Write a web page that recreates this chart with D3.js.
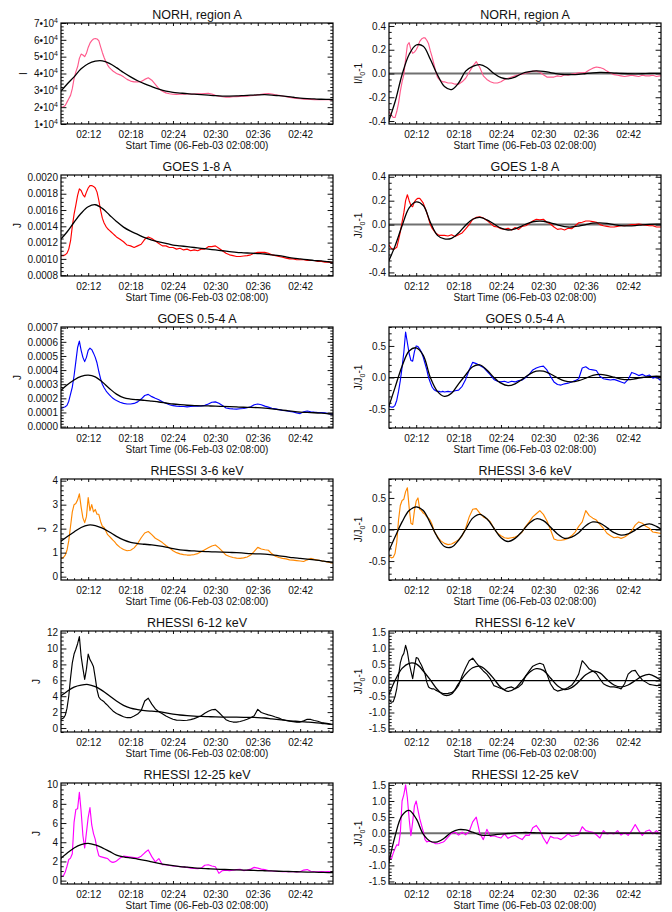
<!DOCTYPE html>
<html>
<head>
<meta charset="utf-8">
<script src="https://cdn.jsdelivr.net/npm/d3@7"></script>
<style>
  html, body { margin: 0; padding: 0; background: #fff; }
  svg { display: block; font-family: "Liberation Sans", Arial, Helvetica, sans-serif; }
</style>
</head>
<body>
<svg id="chart" width="672" height="912"></svg>
<script>
// ---------------------------------------------------------------------------
// Time grids, minutes after 02:08:00 UT on 06-Feb-2003
// ---------------------------------------------------------------------------
const tObs = [
  0,0.25,0.5,0.75,1,1.25,1.5,1.75,2,2.25,2.5,2.75,3,3.25,3.5,3.75,4,4.25,4.5,4.75,5,5.25,5.5,5.75,6,6.25,6.5,6.75,7,7.25,7.5,7.75,8,
  8.5,9,9.5,10,10.5,11,11.5,12,12.5,13,13.5,14,14.5,15,15.5,16,16.5,17,17.5,18,18.5,19,19.5,20,20.5,21,21.5,22,22.5,23,23.5,
  24,24.5,25,25.5,26,26.5,27,27.5,28,28.5,29,29.5,30,30.5,31,31.5,32,32.5,33,33.5,34,34.5,35,35.5,36,36.5,37,37.5,38,38.5,39
];
const tFit = [0,1,2,3,4,5,6,7,8,9,10,11,12,13,14,15,16,17,18,19,20,21,22,23,24,25,26,27,28,29,30,31,32,33,34,35,36,37,38,39];

// ---------------------------------------------------------------------------
// Channel names
// ---------------------------------------------------------------------------
const channelNames = ["NORH, region A", "GOES 1-8 A", "GOES 0.5-4 A", "RHESSI 3-6 keV", "RHESSI 6-12 keV", "RHESSI 12-25 keV"];

// ---------------------------------------------------------------------------
// Flux J (left column). NORH in 1e4, GOES 1-8 in 1e-3, GOES 0.5-4 in 1e-4
// ---------------------------------------------------------------------------
const norhFlux = [
  2.0,2.0,2.02,2.1,2.3,2.5,2.7,3.1,3.7,4.1,4.4,4.9,5.15,5.1,5.0,5.2,5.55,5.8,5.95,6.05,6.08,6.05,5.95,5.6,5.25,4.95,4.7,4.5,4.35,4.25,4.15,4.08,4.0,
  3.92,3.8,3.65,3.55,3.5,3.5,3.52,3.65,3.75,3.6,3.35,3.1,2.95,2.85,2.8,2.77,2.76,2.77,2.77,2.78,2.78,2.78,2.79,2.8,2.81,2.82,2.78,2.7,2.65,2.62,2.6,
  2.6,2.62,2.63,2.64,2.65,2.66,2.68,2.7,2.73,2.76,2.79,2.81,2.78,2.73,2.7,2.66,2.62,2.58,2.55,2.52,2.5,2.48,2.47,2.46,2.45,2.45,2.44,2.44,2.44,2.43,2.43
];
const norhFluxFit = [
  2.88,3.36,3.8,4.28,4.58,4.73,4.75,4.6,4.35,4.06,3.8,3.57,3.38,3.22,3.07,2.95,2.88,2.84,2.8,2.77,
  2.74,2.71,2.68,2.66,2.66,2.67,2.69,2.71,2.73,2.74,2.72,2.68,2.64,2.59,2.54,2.51,2.49,2.47,2.46,2.45
];
const goes18Flux = [
  1.04,1.04,1.04,1.05,1.07,1.12,1.22,1.4,1.55,1.66,1.78,1.86,1.84,1.79,1.76,1.82,1.87,1.9,1.9,1.89,1.87,1.82,1.72,1.6,1.5,1.44,1.4,1.37,1.35,1.33,1.31,1.29,1.27,
  1.24,1.21,1.17,1.16,1.14,1.16,1.18,1.24,1.27,1.25,1.22,1.19,1.16,1.16,1.14,1.14,1.12,1.13,1.11,1.12,1.1,1.11,1.1,1.12,1.12,1.15,1.15,1.16,1.13,1.1,1.07,
  1.05,1.04,1.03,1.03,1.035,1.04,1.05,1.07,1.08,1.08,1.08,1.07,1.05,1.04,1.03,1.02,1.01,1.0,1.0,0.99,0.99,0.99,0.98,0.98,0.98,0.97,0.97,0.96,0.96,0.955,0.95
];
const goes18FluxFit = [
  1.23,1.33,1.45,1.56,1.64,1.665,1.62,1.54,1.46,1.39,1.34,1.3,1.26,1.23,1.21,1.19,1.17,1.16,1.15,1.14,
  1.13,1.12,1.11,1.1,1.09,1.08,1.075,1.07,1.065,1.06,1.05,1.04,1.025,1.01,1.0,0.99,0.98,0.975,0.965,0.96
];
const goes054Flux = [
  1.3,1.3,1.35,1.4,1.5,1.8,2.3,2.8,3.6,4.6,5.6,6.05,5.4,4.9,4.6,4.9,5.4,5.55,5.45,5.2,4.9,4.5,3.9,3.4,3.0,2.75,2.55,2.38,2.25,2.12,2.0,1.92,1.85,
  1.72,1.64,1.6,1.6,1.64,1.75,1.95,2.2,2.28,2.12,2.0,1.9,1.75,1.65,1.55,1.48,1.45,1.43,1.42,1.4,1.42,1.44,1.45,1.47,1.5,1.6,1.72,1.75,1.65,1.5,1.32,
  1.27,1.25,1.24,1.26,1.28,1.33,1.4,1.55,1.6,1.55,1.45,1.38,1.3,1.25,1.2,1.15,1.12,1.08,1.03,0.97,0.92,1.05,1.1,1.05,1.02,1.0,1.0,0.97,0.92,0.88,0.87
];
const goes054FluxFit = [
  2.5,2.94,3.3,3.55,3.64,3.52,3.15,2.7,2.3,2.05,1.95,1.9,1.86,1.8,1.74,1.67,1.6,1.55,1.51,1.49,
  1.47,1.46,1.45,1.43,1.41,1.39,1.37,1.36,1.34,1.31,1.26,1.2,1.14,1.08,1.03,1.0,0.98,0.95,0.91,0.88
];
const rh36Flux = [
  0.75,0.76,0.8,0.9,1.1,1.5,2.1,2.7,3.0,3.05,3.2,3.45,2.9,2.45,2.25,2.5,3.3,2.75,3.0,2.7,2.8,2.6,2.6,2.3,2.1,2.05,1.9,1.75,1.68,1.6,1.52,1.45,1.35,
  1.22,1.13,1.08,1.1,1.2,1.38,1.62,1.82,1.88,1.75,1.6,1.52,1.42,1.3,1.2,1.08,1.0,0.95,0.92,0.9,0.9,0.92,0.96,1.04,1.12,1.2,1.28,1.32,1.2,1.05,0.9,
  0.84,0.8,0.77,0.76,0.78,0.82,0.9,1.05,1.22,1.15,1.12,1.1,0.95,0.85,0.8,0.76,0.74,0.7,0.69,0.67,0.65,0.63,0.7,0.76,0.72,0.69,0.66,0.63,0.6,0.57,0.55
];
const rh36FluxFit = [
  1.45,1.66,1.86,2.05,2.15,2.13,2.02,1.86,1.68,1.53,1.43,1.38,1.35,1.32,1.28,1.23,1.17,1.12,1.09,1.07,
  1.05,1.04,1.03,1.02,1.01,1.0,0.98,0.96,0.95,0.94,0.91,0.87,0.83,0.79,0.76,0.73,0.7,0.66,0.62,0.59
];
const rh612Flux = [
  1.1,1.14,1.25,1.6,2.5,4.0,6.3,8.2,9.3,9.9,10.6,11.5,9.0,7.5,6.1,7.4,9.3,8.6,8.2,7.7,6.3,4.8,3.9,3.6,3.45,3.3,3.05,2.85,2.6,2.38,2.15,1.98,1.82,
  1.62,1.42,1.3,1.3,1.5,1.75,2.2,3.4,3.75,3.0,2.4,2.05,1.8,1.5,1.3,1.1,1.0,0.98,0.95,0.98,1.05,1.18,1.35,1.55,1.85,2.1,2.3,2.35,1.95,1.5,1.05,
  0.85,0.75,0.75,0.82,0.95,1.1,1.3,1.55,2.35,1.95,1.8,1.65,1.55,1.38,1.25,1.05,0.95,0.85,0.8,0.75,0.75,0.9,1.1,1.08,0.95,0.85,0.7,0.62,0.55,0.45,0.42
];
const rh612FluxFit = [
  3.95,4.6,5.15,5.4,5.47,5.2,4.7,4.05,3.4,2.85,2.5,2.32,2.2,2.12,2.05,1.9,1.76,1.64,1.56,1.5,
  1.46,1.43,1.4,1.38,1.37,1.36,1.35,1.34,1.32,1.26,1.16,1.06,0.96,0.88,0.8,0.75,0.69,0.6,0.5,0.42
];
const rh1225Flux = [
  0.42,0.45,0.5,0.9,1.5,2.2,2.35,2.8,6.1,7.4,7.5,9.2,7.2,4.7,3.4,5.0,6.6,7.6,5.8,4.9,4.3,3.3,2.6,2.5,2.45,2.4,2.35,2.3,2.1,1.95,1.9,1.95,2.05,
  2.35,2.55,2.5,2.45,2.4,2.35,2.55,2.9,3.2,2.5,1.95,2.3,1.65,1.65,1.58,1.52,1.5,1.46,1.42,1.38,1.3,1.27,1.25,1.3,1.6,1.65,1.52,1.45,0.76,1.05,1.1,
  1.05,1.1,1.15,1.18,1.05,1.1,1.2,1.38,1.3,1.2,1.15,1.04,1.0,0.98,0.95,0.93,0.93,0.95,0.93,0.92,0.93,1.1,1.15,0.98,0.95,0.93,0.95,0.92,0.94,0.93,0.93
];
const rh1225FluxFit = [
  2.25,2.86,3.4,3.75,3.88,3.72,3.42,3.05,2.66,2.48,2.36,2.25,2.12,1.95,1.8,1.67,1.56,1.47,1.4,1.33,
  1.28,1.24,1.2,1.17,1.14,1.12,1.1,1.08,1.05,1.03,1.01,0.98,0.96,0.94,0.91,0.89,0.88,0.86,0.84,0.83
];

// ---------------------------------------------------------------------------
// Relative variation J/J0 - 1 (right column)
// ---------------------------------------------------------------------------
const norhRel = [
  -0.31,-0.33,-0.35,-0.37,-0.37,-0.32,-0.25,-0.15,-0.07,-0.01,0.12,0.24,0.26,0.2,0.17,0.18,0.2,0.23,0.27,0.29,0.3,0.3,0.28,0.25,0.19,0.14,0.08,0.02,-0.03,-0.05,-0.06,-0.07,-0.07,
  -0.08,-0.08,-0.09,-0.09,-0.07,-0.04,0.01,0.06,0.1,0.05,-0.02,-0.05,-0.07,-0.08,-0.08,-0.07,-0.05,-0.04,-0.03,-0.02,-0.01,-0.005,0.005,0.01,0.02,0.02,0.01,-0.01,-0.03,-0.03,-0.03,
  -0.02,-0.025,-0.01,-0.015,-0.005,0,0.005,0.005,0.01,0.03,0.045,0.055,0.05,0.04,0.02,0.005,-0.01,-0.015,-0.02,-0.025,-0.02,-0.015,-0.02,-0.025,-0.015,-0.02,-0.02,-0.015,-0.025,-0.02,-0.02
];
const norhRelFit = [
  -0.42,-0.24,-0.01,0.16,0.24,0.23,0.12,-0.01,-0.11,-0.135,-0.08,0.02,0.06,0.075,0.05,0.0,-0.035,-0.045,-0.03,0.0,
  0.015,0.022,0.018,0.008,-0.003,-0.009,-0.01,-0.007,0.0,0.006,0.009,0.008,0.004,0.0,-0.002,-0.003,-0.002,0.0,0.001,0.001
];
const goes18Rel = [
  -0.16,-0.18,-0.2,-0.21,-0.2,-0.19,-0.13,-0.06,0.02,0.1,0.2,0.25,0.2,0.16,0.15,0.19,0.21,0.22,0.22,0.2,0.18,0.14,0.1,0.05,0.0,-0.03,-0.05,-0.07,-0.08,-0.09,-0.09,-0.09,-0.09,
  -0.095,-0.085,-0.1,-0.085,-0.07,-0.035,0.0,0.045,0.06,0.065,0.055,0.035,0.01,-0.015,-0.02,-0.035,-0.04,-0.03,-0.045,-0.025,-0.04,-0.015,-0.01,0.01,0.03,0.045,0.04,0.045,0.02,0.005,-0.02,
  -0.04,-0.035,-0.045,-0.03,-0.035,-0.01,0.015,0.02,0.03,0.03,0.025,0.02,0.0,-0.01,-0.015,-0.02,-0.02,-0.015,-0.01,-0.01,-0.005,0.0,0.0,0.005,0.0,-0.005,-0.01,-0.01,-0.02,-0.02,-0.02
];
const goes18RelFit = [
  -0.32,-0.18,-0.01,0.14,0.19,0.16,0.02,-0.09,-0.12,-0.115,-0.07,-0.005,0.045,0.06,0.04,0.005,-0.03,-0.045,-0.035,-0.01,
  0.015,0.028,0.028,0.015,-0.002,-0.017,-0.02,-0.012,0.0,0.012,0.015,0.01,0.0,-0.008,-0.01,-0.008,-0.002,0.002,0.004,0.003
];
const goes054Rel = [
  -0.45,-0.46,-0.47,-0.47,-0.44,-0.36,-0.22,-0.05,0.16,0.4,0.72,0.55,0.38,0.27,0.26,0.41,0.5,0.49,0.45,0.4,0.32,0.22,0.12,0.0,-0.08,-0.15,-0.19,-0.21,-0.22,-0.22,-0.23,-0.22,-0.23,
  -0.22,-0.23,-0.21,-0.2,-0.14,-0.03,0.12,0.24,0.22,0.19,0.16,0.1,0.04,-0.03,-0.06,-0.07,-0.06,-0.08,-0.06,-0.07,-0.05,-0.04,0.0,0.05,0.12,0.15,0.17,0.18,0.12,0.02,-0.07,
  -0.11,-0.12,-0.1,-0.09,-0.07,-0.05,-0.02,0.15,0.17,0.13,0.12,0.11,0.02,-0.02,-0.03,-0.04,-0.03,-0.05,-0.07,-0.09,-0.03,0.08,0.06,0.03,0.05,0.02,0.04,-0.01,0.01,-0.04,-0.03
];
const goes054RelFit = [
  -0.5,-0.16,0.18,0.42,0.47,0.35,0.0,-0.22,-0.3,-0.25,-0.1,0.04,0.17,0.2,0.12,0.0,-0.09,-0.13,-0.1,-0.03,
  0.05,0.1,0.1,0.055,-0.005,-0.055,-0.07,-0.05,-0.01,0.035,0.05,0.035,0.005,-0.025,-0.035,-0.02,0.0,0.015,0.02,0.015
];
const rh36Rel = [
  -0.42,-0.43,-0.45,-0.44,-0.38,-0.2,0.15,0.38,0.46,0.48,0.6,0.66,0.35,0.1,0.08,0.3,0.45,0.5,0.32,0.3,0.26,0.24,0.2,0.18,0.14,0.08,-0.02,-0.07,-0.11,-0.15,-0.18,-0.2,-0.22,
  -0.24,-0.23,-0.2,-0.16,-0.1,0.02,0.2,0.32,0.33,0.26,0.2,0.17,0.12,0.02,-0.06,-0.1,-0.13,-0.14,-0.13,-0.12,-0.09,-0.04,0.05,0.12,0.2,0.25,0.3,0.24,0.14,0.0,-0.15,
  -0.17,-0.17,-0.16,-0.14,-0.1,-0.04,0.05,0.12,0.3,0.22,0.18,0.15,0.08,0.02,-0.06,-0.1,-0.13,-0.12,-0.14,-0.12,-0.08,-0.02,0.07,0.12,0.1,0.05,0.02,-0.04,-0.05,-0.06,-0.06
];
const rh36RelFit = [
  -0.37,-0.12,0.12,0.3,0.36,0.3,0.1,-0.12,-0.27,-0.28,-0.17,0.0,0.18,0.24,0.17,0.02,-0.13,-0.19,-0.14,-0.03,
  0.1,0.17,0.14,0.04,-0.07,-0.14,-0.12,-0.05,0.06,0.12,0.1,0.03,-0.05,-0.09,-0.07,-0.01,0.06,0.09,0.05,-0.02
];
const rh612Rel = [
  -0.58,-0.62,-0.68,-0.66,-0.5,-0.25,0.15,0.55,0.75,0.85,1.1,0.9,0.55,0.3,0.06,0.4,0.72,0.7,0.58,0.48,0.35,0.2,-0.05,-0.2,-0.24,-0.26,-0.26,-0.3,-0.33,-0.36,-0.38,-0.4,-0.41,
  -0.4,-0.38,-0.3,-0.15,0.15,0.4,0.62,0.7,0.55,0.42,0.3,0.2,0.05,-0.16,-0.2,-0.25,-0.28,-0.22,-0.2,-0.26,-0.2,-0.1,0.15,0.3,0.45,0.5,0.54,0.5,0.2,-0.1,-0.27,
  -0.33,-0.3,-0.27,-0.22,-0.15,0.0,0.2,0.62,0.5,0.36,0.3,0.22,0.05,-0.1,-0.16,-0.2,-0.2,-0.22,-0.26,-0.1,0.2,0.3,0.32,0.15,0.02,-0.05,-0.12,-0.14,-0.16,-0.15,-0.16
];
const rh612RelFit = [
  -0.52,0.0,0.38,0.54,0.52,0.3,0.02,-0.28,-0.46,-0.42,-0.1,0.2,0.4,0.45,0.3,0.05,-0.22,-0.34,-0.25,0.0,
  0.25,0.37,0.32,0.08,-0.16,-0.28,-0.22,-0.04,0.18,0.29,0.24,0.03,-0.14,-0.2,-0.14,0.0,0.14,0.19,0.1,-0.05
];
const rh1225Rel = [
  -0.8,-0.75,-0.8,-0.62,-0.48,-0.36,-0.38,0.0,1.0,1.2,1.5,1.1,0.45,-0.08,0.35,0.85,1.0,0.72,0.45,0.25,0.05,-0.2,-0.27,-0.25,-0.26,-0.28,-0.3,-0.33,-0.33,-0.32,-0.3,-0.28,-0.25,
  -0.12,0.0,0.03,-0.06,0.03,-0.05,0.05,0.35,0.5,0.0,-0.2,0.12,-0.1,-0.08,-0.12,-0.15,-0.02,-0.16,-0.1,-0.07,-0.14,-0.2,-0.06,-0.07,0.17,0.24,0.08,-0.15,-0.33,-0.1,-0.15,
  -0.15,-0.2,-0.12,-0.02,-0.1,-0.08,-0.05,0.2,0.08,0.05,0.03,-0.05,-0.15,0.08,-0.02,0.0,-0.02,0.08,-0.06,0.02,-0.07,0.08,0.27,0.08,-0.07,0.06,0.1,-0.02,0.08,-0.02,-0.02
];
const rh1225RelFit = [
  -1.05,-0.1,0.55,0.71,0.45,-0.03,-0.25,-0.27,-0.15,0.03,0.11,0.1,0.03,-0.05,-0.07,-0.05,-0.03,-0.01,0.01,0.02,
  0.02,0.01,0.0,-0.005,-0.005,0.0,0.002,0.003,0.002,0,0,0,0,0,0,0,0,0,0,0
];

// ---------------------------------------------------------------------------
// Tick labels
// ---------------------------------------------------------------------------
const norhTicks   = [1, 2, 3, 4, 5, 6, 7];            // x 1e4
const goes18Ticks = [0.8, 1.0, 1.2, 1.4, 1.6, 1.8, 2.0]; // x 1e-3
const goes054Ticks = [0, 1, 2, 3, 4, 5, 6, 7];        // x 1e-4
const rh36Ticks   = [0, 1, 2, 3, 4];
const rh612Ticks  = [0, 2, 4, 6, 8, 10, 12];
const rh1225Ticks = [0, 2, 4, 6, 8, 10];
const relTicksSmall = [-0.4, -0.2, 0, 0.2, 0.4];
const relTicksMid   = [-0.5, 0, 0.5];
const relTicksLarge = [-1.5, -1, -0.5, 0, 0.5, 1, 1.5];
const timeTickMinutes = [4, 10, 16, 22, 28, 34];       // 02:12 ... 02:42

// ---------------------------------------------------------------------------
// Styling
// ---------------------------------------------------------------------------
const channelColors = ["#ff5a8c", "#ff0000", "#0000ff", "#ff8800", "#000000", "#ff00ff"];
const zeroLineColors = ["#707070", "#707070", "#000000", "#000000", "#000000", "#707070"];
const zeroLineWidths = [2, 2, 1.2, 1.2, 1.2, 2];
const INK = "#111";
const FONT = '"Liberation Sans", Arial, Helvetica, sans-serif';

const startMs = Date.UTC(2003, 1, 6, 2, 8, 0);
const toDate = m => new Date(startMs + m * 60000);
const xWindow = [0.15, 38.65];

const plotW = 272, plotH = 101;
const colX = [61, 389];
const rowY0 = 23, rowStep = 152;

const fmtLocale = d3.formatLocale({ decimal: ".", thousands: ",", grouping: [3], currency: ["", ""], minus: "-" });
const fmt1 = fmtLocale.format(".1f");
const fmt4 = fmtLocale.format(".4f");
const fmtInt = fmtLocale.format("d");

// Panel definitions assembled from the arrays above
const leftPanels = [
  { obs: norhFlux,    fit: norhFluxFit,    domain: [1, 7],         ticks: norhTicks,    minor: 5, label: "sci4", ytitle: "I" },
  { obs: goes18Flux,  fit: goes18FluxFit,  domain: [0.79, 2.03],   ticks: goes18Ticks,  minor: 4, label: v => fmt4(v * 1e-3), ytitle: "J" },
  { obs: goes054Flux, fit: goes054FluxFit, domain: [-0.1, 7.05],   ticks: goes054Ticks, minor: 5, label: v => fmt4(v * 1e-4), ytitle: "J" },
  { obs: rh36Flux,    fit: rh36FluxFit,    domain: [-0.14, 4.07],  ticks: rh36Ticks,    minor: 5, label: fmtInt, ytitle: "J" },
  { obs: rh612Flux,   fit: rh612FluxFit,   domain: [-0.5, 12.2],   ticks: rh612Ticks,   minor: 4, label: fmtInt, ytitle: "J" },
  { obs: rh1225Flux,  fit: rh1225FluxFit,  domain: [-0.35, 10.17], ticks: rh1225Ticks,  minor: 4, label: fmtInt, ytitle: "J" }
];
const rightPanels = [
  { obs: norhRel,    fit: norhRelFit,    domain: [-0.425, 0.425], ticks: relTicksSmall, minor: 4, label: fmt1, ytitle: "I" },
  { obs: goes18Rel,  fit: goes18RelFit,  domain: [-0.43, 0.415],  ticks: relTicksSmall, minor: 4, label: fmt1, ytitle: "J" },
  { obs: goes054Rel, fit: goes054RelFit, domain: [-0.8, 0.8],     ticks: relTicksMid,   minor: 5, label: fmt1, ytitle: "J" },
  { obs: rh36Rel,    fit: rh36RelFit,    domain: [-0.8, 0.8],     ticks: relTicksMid,   minor: 5, label: fmt1, ytitle: "J" },
  { obs: rh612Rel,   fit: rh612RelFit,   domain: [-1.61, 1.55],   ticks: relTicksLarge, minor: 5, label: fmt1, ytitle: "J" },
  { obs: rh1225Rel,  fit: rh1225RelFit,  domain: [-1.58, 1.56],   ticks: relTicksLarge, minor: 5, label: fmt1, ytitle: "J" }
];

const svg = d3.select("#chart");
svg.append("rect").attr("width", 672).attr("height", 912).attr("fill", "#fff");

function minorValues(domain, major, n) {
  const step = (major[1] - major[0]) / n;
  const out = [];
  const k0 = Math.ceil(domain[0] / step - 1e-6), k1 = Math.floor(domain[1] / step + 1e-6);
  for (let k = k0; k <= k1; k++) {
    const v = k * step;
    if (!major.some(m => Math.abs(m - v) < step * 1e-3)) out.push(v);
  }
  return out;
}

function styleAxis(sel) {
  sel.attr("font-family", FONT).attr("font-size", 10).attr("color", INK);
  sel.select(".domain").remove();
  sel.selectAll(".tick line").attr("stroke-width", 1);
}

let clipCount = 0;

function drawPanel(px, py, cfg, row, relative) {
  const g = svg.append("g").attr("transform", `translate(${px},${py})`);
  const x = d3.scaleUtc().domain(xWindow.map(toDate)).range([0, plotW]);
  const y = d3.scaleLinear().domain(cfg.domain).range([plotH, 0]);

  const clipId = "clip" + (clipCount++);
  g.append("clipPath").attr("id", clipId)
    .append("rect").attr("width", plotW).attr("height", plotH);
  const plot = g.append("g").attr("clip-path", `url(#${clipId})`);

  if (relative) {
    plot.append("line")
      .attr("x1", 0).attr("x2", plotW)
      .attr("y1", y(0)).attr("y2", y(0))
      .attr("stroke", zeroLineColors[row]).attr("stroke-width", zeroLineWidths[row]);
  }

  const obsLine = d3.line().x(d => x(toDate(d[0]))).y(d => y(d[1]));
  plot.append("path")
    .datum(d3.zip(tObs, cfg.obs))
    .attr("d", obsLine)
    .attr("fill", "none")
    .attr("stroke", channelColors[row])
    .attr("stroke-width", 1.15)
    .attr("stroke-linejoin", "round");

  const fitLine = d3.line().curve(d3.curveCatmullRom.alpha(0.5))
    .x(d => x(toDate(d[0]))).y(d => y(d[1]));
  plot.append("path")
    .datum(d3.zip(tFit, cfg.fit))
    .attr("d", fitLine)
    .attr("fill", "none")
    .attr("stroke", "#000")
    .attr("stroke-width", 1.3);

  // time axes (ticks pointing inward, labels at bottom only)
  const majorTimes = timeTickMinutes.map(toDate);
  const minorTimes = d3.utcMinute.range(toDate(xWindow[0]), toDate(xWindow[1]))
    .filter(d => !majorTimes.some(m => +m === +d));

  g.append("g").attr("transform", `translate(0,${plotH})`)
    .call(d3.axisBottom(x).tickValues(majorTimes).tickFormat(d3.utcFormat("%H:%M"))
      .tickSize(-3).tickSizeOuter(0).tickPadding(7))
    .call(styleAxis);
  g.append("g").attr("transform", `translate(0,${plotH})`)
    .call(d3.axisBottom(x).tickValues(minorTimes).tickFormat("").tickSize(-1.8).tickSizeOuter(0))
    .call(styleAxis);
  g.append("g")
    .call(d3.axisTop(x).tickValues(majorTimes).tickFormat("").tickSize(-3).tickSizeOuter(0))
    .call(styleAxis);
  g.append("g")
    .call(d3.axisTop(x).tickValues(minorTimes).tickFormat("").tickSize(-1.8).tickSizeOuter(0))
    .call(styleAxis);

  // value axes
  const yMinor = minorValues(cfg.domain, cfg.ticks, cfg.minor);
  const labelFn = cfg.label === "sci4" ? (() => "") : cfg.label;
  const yLeft = g.append("g")
    .call(d3.axisLeft(y).tickValues(cfg.ticks).tickFormat(labelFn)
      .tickSize(-5.4).tickSizeOuter(0).tickPadding(3))
    .call(styleAxis);
  if (cfg.label === "sci4") {
    yLeft.selectAll(".tick text").each(function (d) {
      const t = d3.select(this);
      t.text(null);
      t.append("tspan").text(d + "\u202210");
      t.append("tspan").attr("dy", -4).attr("font-size", 7).text("4");
    });
  }
  g.append("g")
    .call(d3.axisLeft(y).tickValues(yMinor).tickFormat("").tickSize(-2.7).tickSizeOuter(0))
    .call(styleAxis);
  g.append("g").attr("transform", `translate(${plotW},0)`)
    .call(d3.axisRight(y).tickValues(cfg.ticks).tickFormat("").tickSize(-5.4).tickSizeOuter(0))
    .call(styleAxis);
  g.append("g").attr("transform", `translate(${plotW},0)`)
    .call(d3.axisRight(y).tickValues(yMinor).tickFormat("").tickSize(-2.7).tickSizeOuter(0))
    .call(styleAxis);

  // frame
  g.append("rect")
    .attr("width", plotW).attr("height", plotH)
    .attr("fill", "none").attr("stroke", "#000").attr("stroke-width", 1.2);

  // panel title
  g.append("text")
    .attr("x", plotW / 2).attr("y", -4)
    .attr("text-anchor", "middle")
    .attr("font-family", FONT).attr("font-size", 12.5).attr("fill", INK)
    .text(channelNames[row]);

  // time axis title
  g.append("text")
    .attr("x", plotW / 2).attr("y", plotH + 25)
    .attr("text-anchor", "middle")
    .attr("font-family", FONT).attr("font-size", 10).attr("fill", INK)
    .text("Start Time (06-Feb-03 02:08:00)");

  // value axis title, placed left of the widest tick label
  let labelLeft = 0;
  yLeft.selectAll(".tick text").each(function () {
    const b = this.getBBox();
    const tick = this.parentNode.getAttribute("transform");
    labelLeft = Math.min(labelLeft, b.x);
  });
  const tx = labelLeft - 10;
  const yt = g.append("text")
    .attr("transform", `translate(${tx},${plotH / 2}) rotate(-90)`)
    .attr("text-anchor", "middle")
    .attr("dy", "0.35em")
    .attr("font-family", FONT).attr("font-size", 10).attr("fill", INK);
  if (relative) {
    yt.append("tspan").text(cfg.ytitle + "/" + cfg.ytitle);
    yt.append("tspan").attr("dy", 2.5).attr("font-size", 7).text("0");
    yt.append("tspan").attr("dy", -2.5).text("-1");
  } else {
    yt.text(cfg.ytitle);
  }
}

leftPanels.forEach((cfg, i) => drawPanel(colX[0], rowY0 + i * rowStep, cfg, i, false));
rightPanels.forEach((cfg, i) => drawPanel(colX[1], rowY0 + i * rowStep, cfg, i, true));
</script>
</body>
</html>
